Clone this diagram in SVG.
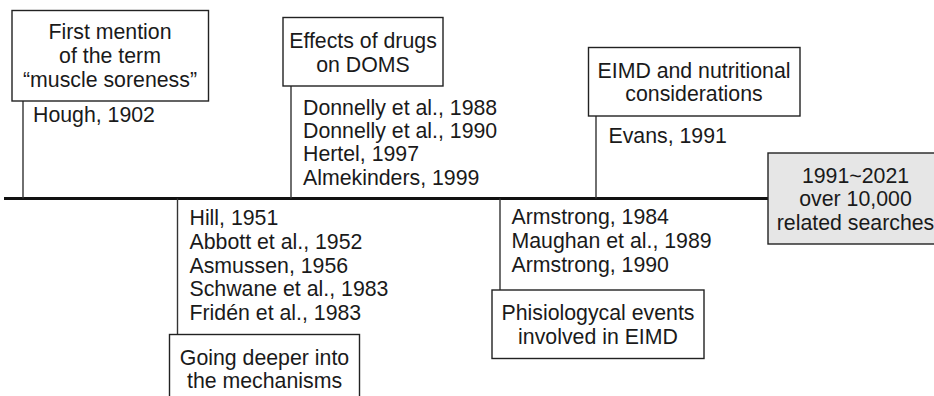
<svg xmlns="http://www.w3.org/2000/svg" width="934" height="396" viewBox="0 0 934 396">
<style>
text{font-family:"Liberation Sans",Arial,sans-serif;font-size:21.3px;fill:#1a1a1a}
.c{text-anchor:middle}
.box{fill:#fff;stroke:#222;stroke-width:1.4}
.gray{fill:#e6e6e6;stroke:#222;stroke-width:1.4}
.stem{stroke:#333;stroke-width:1.4;fill:none}
.axis{stroke:#111;stroke-width:3;fill:none}
</style>
<g id="connectors">
<line class="axis" x1="4" y1="198.5" x2="768" y2="198.5"/>
<line class="stem" x1="23" y1="101" x2="23" y2="198.5"/>
<line class="stem" x1="291" y1="86" x2="291" y2="198.5"/>
<line class="stem" x1="596" y1="116" x2="596" y2="198.5"/>
<line class="stem" x1="177.5" y1="198.5" x2="177.5" y2="334"/>
<line class="stem" x1="500" y1="198.5" x2="500" y2="290"/>
</g>
<g id="node-first-mention">
<rect class="box" x="12" y="10.5" width="196.5" height="90.5"/>
<text class="c" x="110" y="39">First mention</text>
<text class="c" x="110" y="63">of the term</text>
<text class="c" x="110" y="86.5">“muscle soreness”</text>
<text x="33" y="122">Hough, 1902</text>
</g>
<g id="node-drugs">
<rect class="box" x="283" y="17.5" width="160" height="68.5"/>
<text class="c" x="363" y="48.3">Effects of drugs</text>
<text class="c" x="363" y="71.7">on DOMS</text>
<text x="303" y="114.5">Donnelly et al., 1988</text>
<text x="303" y="138">Donnelly et al., 1990</text>
<text x="303" y="161">Hertel, 1997</text>
<text x="303" y="184.5">Almekinders, 1999</text>
</g>
<g id="node-mechanisms">
<rect class="box" x="169.5" y="334.5" width="190" height="70"/>
<text class="c" x="264.5" y="365">Going deeper into</text>
<text class="c" x="264.5" y="387.5">the mechanisms</text>
<text x="189.5" y="225">Hill, 1951</text>
<text x="189.5" y="249">Abbott et al., 1952</text>
<text x="189.5" y="272.5">Asmussen, 1956</text>
<text x="189.5" y="296">Schwane et al., 1983</text>
<text x="189.5" y="319.5">Fridén et al., 1983</text>
</g>
<g id="node-physiological">
<rect class="box" x="492" y="290" width="212" height="68.5"/>
<text class="c" x="598" y="319.5">Phisiologycal events</text>
<text class="c" x="598" y="343.5">involved in EIMD</text>
<text x="511.5" y="224">Armstrong, 1984</text>
<text x="511.5" y="247.5">Maughan et al., 1989</text>
<text x="511.5" y="271.5">Armstrong, 1990</text>
</g>
<g id="node-nutrition">
<rect class="box" x="588.5" y="47.5" width="211.5" height="68.5"/>
<text class="c" x="694" y="77.5">EIMD and nutritional</text>
<text class="c" x="694" y="101">considerations</text>
<text x="608.5" y="142.5">Evans, 1991</text>
</g>
<g id="node-searches">
<rect class="gray" x="768" y="153" width="175" height="91"/>
<text class="c" x="855.5" y="182.5">1991~2021</text>
<text class="c" x="855.5" y="206">over 10,000</text>
<text class="c" x="855.5" y="229.5">related searches</text>
</g>
</svg>
